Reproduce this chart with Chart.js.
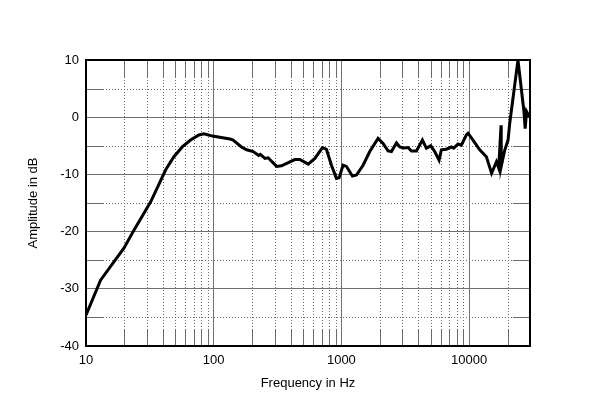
<!DOCTYPE html>
<html>
<head>
<meta charset="utf-8">
<script src="https://cdn.jsdelivr.net/npm/chart.js@4/dist/chart.umd.min.js"></script>
<style>
  html, body { margin: 0; padding: 0; background: #fff; }
  #wrap { width: 600px; height: 408px; }
</style>
</head>
<body>
<div id="wrap"><canvas id="chart" width="600" height="408"></canvas></div>
<script>
// Respuesta en frecuencia
const freqs = [10, 13, 19.8, 23.8, 32.1, 42.1, 48.8, 56.7, 65.9, 76.6, 83.8, 98,
  134, 142, 165, 181, 204, 225, 232, 252, 267, 311, 340, 432, 473, 550, 620, 711, 764, 836, 915, 960,
  1030, 1096, 1220, 1313, 1479, 1668, 1937, 2120, 2320, 2466, 2700, 2866, 3079, 3327, 3535,
  3870, 4310, 4630, 5010, 5380, 5820, 6070, 6640, 7270, 7580, 8190, 8700, 9530, 9820,
  10740, 12110, 13660, 15000, 16370, 17060, 17800, 17850, 19000, 20200, 20800, 24150,
  26900, 27500, 28200, 29800];
const amplitude = [-34.6, -28.5, -22.9, -19.7, -14.8, -9.2, -6.9, -5.2, -4.0, -3.1, -2.9, -3.3,
  -3.8, -4.0, -5.2, -5.7, -6.0, -6.7, -6.5, -7.2, -7.1, -8.6, -8.5, -7.4, -7.4, -8.2, -7.2, -5.3, -5.6, -8.4, -10.7, -10.6,
  -8.4, -8.6, -10.3, -10.1, -8.4, -6.0, -3.7, -4.6, -5.9, -6.0, -4.5, -5.2, -5.4, -5.3, -5.9,
  -5.9, -4.0, -5.4, -5.0, -6.0, -7.5, -5.7, -5.6, -5.2, -5.4, -4.7, -4.9, -3.1, -2.8,
  -4.0, -5.7, -6.9, -9.8, -7.8, -8.9, -1.4, -8.6, -5.8, -4.0, -1.1, 10.0,
  1.0, -2.0, 1.0, 0.0];

// Marcas de los ejes
const majorFreqTicks = [10, 100, 1000, 10000];
const minorFreqTicks = [20, 30, 40, 50, 60, 70, 80, 90, 200, 300, 400, 500, 600, 700, 800, 900,
  2000, 3000, 4000, 5000, 6000, 7000, 8000, 9000, 20000];
const majorDbTicks = [-40, -30, -20, -10, 0, 10];
const minorDbTicks = [-35, -25, -15, -5, 5];

const FONT = { family: "'Liberation Sans', Arial, sans-serif", size: 13 };

// Rejilla secundaria punteada con marcas sólidas en los bordes
const minorGrid = {
    id: 'minorGrid',
    beforeDatasetsDraw(chart) {
        const { ctx, chartArea: a, scales: { x, y } } = chart;
        const tick = 17;
        ctx.save();
        ctx.lineWidth = 1;
        ctx.strokeStyle = '#6a6a6a';
        minorFreqTicks.forEach(f => {
            const px = Math.round(x.getPixelForValue(f)) + 0.5;
            ctx.setLineDash([]);
            ctx.beginPath();
            ctx.moveTo(px, a.top); ctx.lineTo(px, a.top + tick);
            ctx.moveTo(px, a.bottom - tick); ctx.lineTo(px, a.bottom);
            ctx.stroke();
            ctx.setLineDash([1, 2]);
            ctx.beginPath();
            ctx.moveTo(px, a.top + tick); ctx.lineTo(px, a.bottom - tick);
            ctx.stroke();
        });
        minorDbTicks.forEach(v => {
            const py = Math.round(y.getPixelForValue(v)) + 0.5;
            ctx.setLineDash([]);
            ctx.beginPath();
            ctx.moveTo(a.left, py); ctx.lineTo(a.left + tick, py);
            ctx.moveTo(a.right - tick, py); ctx.lineTo(a.right, py);
            ctx.stroke();
            ctx.setLineDash([1, 2]);
            ctx.beginPath();
            ctx.moveTo(a.left + tick, py); ctx.lineTo(a.right - tick, py);
            ctx.stroke();
        });
        ctx.restore();
    },
    afterDatasetsDraw(chart) {
        const { ctx, chartArea: a } = chart;
        ctx.save();
        ctx.strokeStyle = '#000';
        ctx.lineWidth = 2;
        ctx.strokeRect(a.left, a.top, a.right - a.left, a.bottom - a.top);
        ctx.restore();
    }
};

new Chart(document.getElementById('chart'), {
    type: 'line',
    data: {
        datasets: [{
            data: freqs.map((f, i) => ({ x: f, y: amplitude[i] })),
            borderColor: '#000',
            borderWidth: 3,
            pointRadius: 0,
            tension: 0,
            fill: false
        }]
    },
    options: {
        responsive: false,
        animation: false,
        layout: { padding: { left: 0, top: 60, right: 70, bottom: 0 } },
        plugins: { legend: { display: false }, tooltip: { enabled: false } },
        scales: {
            x: {
                type: 'logarithmic',
                min: 10,
                max: 30000,
                afterBuildTicks: s => { s.ticks = majorFreqTicks.map(v => ({ value: v })); },
                afterFit: s => { s.height = 62; },
                ticks: { color: '#000', font: FONT, padding: 7, maxRotation: 0, autoSkip: false,
                         callback: v => String(v) },
                grid: { color: '#707070', lineWidth: 1, drawTicks: false },
                border: { display: false },
                title: { display: true, text: 'Frequency in Hz', color: '#000', font: FONT,
                         padding: { top: 0, bottom: 17 } }
            },
            y: {
                min: -40,
                max: 10,
                afterBuildTicks: s => { s.ticks = majorDbTicks.map(v => ({ value: v })); },
                afterFit: s => { s.width = 86; },
                ticks: { color: '#000', font: FONT, padding: 7 },
                grid: { color: '#707070', lineWidth: 1, drawTicks: false },
                border: { display: false },
                title: { display: true, text: 'Amplitude in dB', color: '#000', font: FONT,
                         padding: { top: 26, bottom: 0 } }
            }
        }
    },
    plugins: [minorGrid]
});
</script>
</body>
</html>
